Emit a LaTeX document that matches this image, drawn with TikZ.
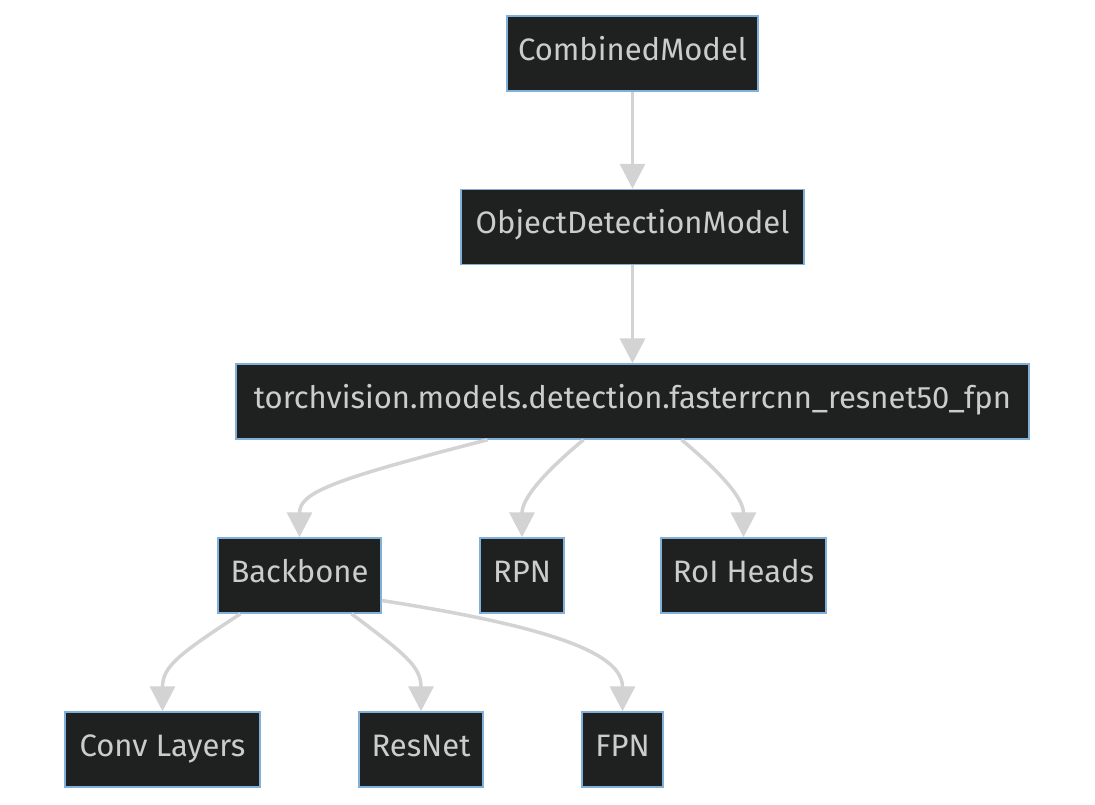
\documentclass[tikz,border=0pt]{standalone}
\usepackage{fontspec}
\setmainfont{Fira Sans}
\usetikzlibrary{arrows.meta,calc}
\definecolor{boxfill}{HTML}{1F2020}
\definecolor{boxline}{HTML}{81B1DB}
\definecolor{txt}{HTML}{CCCCCC}
\definecolor{edge}{HTML}{D3D3D3}
\begin{document}
\begin{tikzpicture}[x=1pt,y=-1pt,
  box/.style={draw=boxline,fill=boxfill,line width=1.5pt,text=txt,inner sep=0pt,
    font=\fontsize{31}{36}\selectfont,text height=21pt,text depth=8pt,minimum height=75pt},
  conn/.style={draw=edge,line width=3.5pt,-{Triangle[length=25pt,width=25pt]}}]
\useasboundingbox (0,0) rectangle (1095,804);
\fill[white] (0,0) rectangle (1095,804);
\node[box,minimum width=251pt] (cm) at (632.5,53.5) {CombinedModel};
\node[box,minimum width=343pt] (odm) at (632.5,227) {ObjectDetectionModel};
\node[box,minimum width=793pt] (tv) at (632.5,401.5) {torchvision.models.detection.fasterrcnn\_resnet50\_fpn};
\node[box,minimum width=163pt] (bb) at (299.5,575.5) {Backbone};
\node[box,minimum width=84pt] (rpn) at (522,575.5) {RPN};
\node[box,minimum width=165pt] (roi) at (743.5,575.5) {RoI Heads};
\node[box,minimum width=195pt] (conv) at (162.5,749.5) {Conv Layers};
\node[box,minimum width=124pt] (res) at (421,749.5) {ResNet};
\node[box,minimum width=81pt] (fpn) at (622.5,749.5) {FPN};
\draw[conn] (cm) -- (odm);
\draw[conn] (odm) -- (tv);
\draw[conn] ($(tv.south)+(-145,0)$) .. controls ($(tv.south)+(-300,40)$) and ($(bb.north)+(0,-45)$) .. (bb.north);
\draw[conn] ($(tv.south)+(-49,0)$) .. controls ($(tv.south)+(-85,30)$) and ($(rpn.north)+(0,-40)$) .. (rpn.north);
\draw[conn] ($(tv.south)+(49,0)$) .. controls ($(tv.south)+(85,30)$) and ($(roi.north)+(0,-40)$) .. (roi.north);
\draw[conn] ($(bb.south)+(-59,0)$) .. controls ($(bb.south)+(-120,40)$) and ($(conv.north)+(0,-45)$) .. (conv.north);
\draw[conn] ($(bb.south)+(52,0)$) .. controls ($(bb.south)+(105,40)$) and ($(res.north)+(0,-45)$) .. (res.north);
\draw[conn] ($(bb.east)+(0,25)$) .. controls ($(bb.east)+(160,50)$) and ($(fpn.north)+(0,-60)$) .. (fpn.north);
\end{tikzpicture}
\end{document}
